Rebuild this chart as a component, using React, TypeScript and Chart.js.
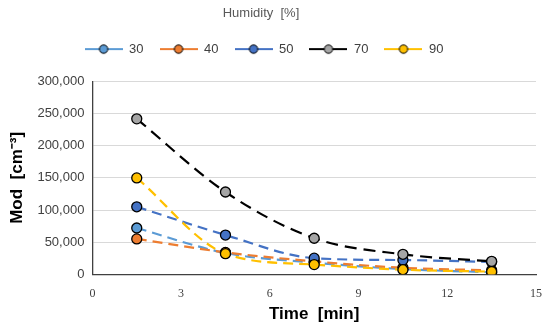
import React, { useEffect, useRef } from "react";
import { Chart, registerables } from "chart.js";

Chart.register(...registerables);

const times = [1.5, 4.5, 7.5, 10.5, 13.5];
const seriesNames = ["30", "40", "50", "70", "90"];
const h30 = [72000, 33000, 18000, 8000, 3000];
const h40 = [55000, 34000, 20000, 10000, 6000];
const h50 = [105000, 61000, 25000, 22000, 19000];
const h70 = [242000, 128000, 56000, 31000, 20000];
const h90 = [150000, 32000, 15000, 7000, 4000];
const lineColors = ["#5B9BD5", "#ED7D31", "#4472C4", "#000000", "#FFC000"];
const markerColors = ["#5B9BD5", "#ED7D31", "#4472C4", "#A5A5A5", "#FFC000"];
const xTicks = [0, 3, 6, 9, 12, 15];
const yTicks = [0, 50000, 100000, 150000, 200000, 250000, 300000];

function legendIcon(line: string, fill: string): HTMLCanvasElement {
  const c = document.createElement("canvas");
  c.width = 38;
  c.height = 12;
  const g = c.getContext("2d")!;
  g.strokeStyle = line;
  g.lineWidth = 2;
  g.beginPath();
  g.moveTo(0, 6);
  g.lineTo(38, 6);
  g.stroke();
  g.beginPath();
  g.arc(19, 6, 4.2, 0, Math.PI * 2);
  g.fillStyle = fill;
  g.fill();
  g.lineWidth = 1;
  g.strokeStyle = "#000";
  g.stroke();
  return c;
}

const headerShift = {
  id: "headerShift",
  afterInit(chart: any) {
    const lg = chart.legend;
    if (lg && !lg._patched) {
      const orig = lg.fit;
      lg.fit = function () {
        orig.call(this);
        this.height += 16;
      };
      lg._patched = true;
    }
  },
  afterLayout(chart: any) {
    const lg = chart.legend;
    if (lg) {
      lg.left -= 13;
      lg.right -= 13;
    }
    const t = chart.titleBlock;
    if (t) {
      t.left -= 16;
      t.right -= 16;
    }
  },
};

export default function App() {
  const ref = useRef<HTMLCanvasElement | null>(null);
  useEffect(() => {
    if (!ref.current) return;
    const all = [h30, h40, h50, h70, h90];
    const icons = seriesNames.map((_, i) => legendIcon(lineColors[i], markerColors[i]));
    const chart = new Chart(ref.current, {
      type: "line",
      plugins: [headerShift],
      data: {
        datasets: all.map((vals, i) => ({
          label: seriesNames[i],
          data: vals.map((v, j) => ({ x: times[j], y: v })),
          borderColor: lineColors[i],
          backgroundColor: markerColors[i],
          pointBackgroundColor: markerColors[i],
          pointBorderColor: "#000",
          pointBorderWidth: 1.3,
          pointRadius: 5,
          borderWidth: 2.2,
          borderDash: i === 3 ? [12, 7] : [10, 6],
          tension: 0.4,
          cubicInterpolationMode: "monotone" as const,
          fill: false,
          order: 5 - i,
        })),
      },
      options: {
        animation: false,
        responsive: false,
        maintainAspectRatio: false,
        layout: { padding: { left: 7, right: 3, top: 4, bottom: 6 } },
        plugins: {
          tooltip: { enabled: false },
          title: {
            display: true,
            text: "Humidity  [%]",
            color: "#595959",
            font: { family: "'Liberation Sans', Arial, sans-serif", size: 13, weight: "normal" },
            padding: { top: 2, bottom: 5 },
          },
          legend: {
            display: true,
            position: "top",
            labels: {
              usePointStyle: true,
              pointStyleWidth: 38,
              boxHeight: 12,
              padding: 16,
              color: "#404040",
              font: { family: "'Liberation Sans', Arial, sans-serif", size: 13 },
              sort: (a: any, b: any) => a.datasetIndex - b.datasetIndex,
              generateLabels: (ch: any) => {
                const items = Chart.defaults.plugins.legend.labels.generateLabels(ch);
                return items.map((it: any) => ({
                  ...it,
                  pointStyle: icons[it.datasetIndex],
                  lineDash: [],
                }));
              },
            },
          },
        },
        scales: {
          x: {
            type: "linear",
            min: 0,
            max: 15,
            afterBuildTicks: (axis: any) => {
              axis.ticks = xTicks.map((v) => ({ value: v }));
            },
            afterFit: (axis: any) => {
              axis.paddingRight = Math.max(axis.paddingRight - 4, 0);
            },
            grid: { display: false, drawTicks: false },
            border: { display: true, color: "#404040", width: 1.3 },
            ticks: {
              color: "#404040",
              padding: 12,
              font: { family: "'Liberation Serif', serif", size: 12 },
            },
            title: {
              display: true,
              text: "Time  [min]",
              color: "#000",
              font: { family: "'Liberation Sans', Arial, sans-serif", size: 17, weight: "bold" },
              padding: { top: -8, bottom: 0 },
            },
          },
          y: {
            type: "linear",
            min: 0,
            max: 300000,
            afterBuildTicks: (axis: any) => {
              axis.ticks = yTicks.map((v) => ({ value: v }));
            },
            grid: { color: "#D9D9D9", lineWidth: 1, drawTicks: false },
            border: { display: true, color: "#404040", width: 1.3 },
            ticks: {
              color: "#404040",
              padding: 8,
              font: { family: "'Liberation Sans', Arial, sans-serif", size: 13 },
              callback: (v: any) => Number(v).toLocaleString("en-US"),
            },
            title: {
              display: true,
              text: "Mod  [cm⁻³]",
              color: "#000",
              font: { family: "'Liberation Sans', Arial, sans-serif", size: 17, weight: "bold" },
              padding: { top: 0, bottom: 2 },
            },
          },
        },
      },
    });
    return () => chart.destroy();
  }, []);
  return (
    <div style={{ position: "absolute", left: 0, top: 0, width: 550, height: 331, background: "#fff" }}>
      <canvas ref={ref} width={550} height={331} style={{ width: 550, height: 331 }} />
    </div>
  );
}
